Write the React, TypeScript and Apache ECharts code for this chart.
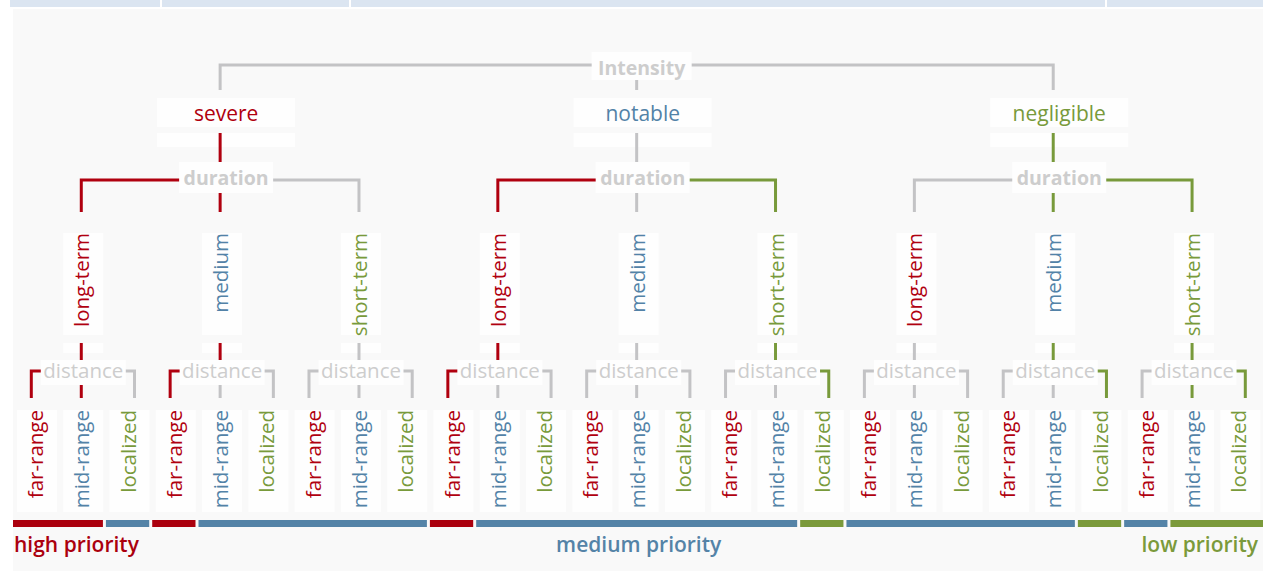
import React, { useEffect, useRef } from "react";
import * as echarts from "echarts";

// ---------- data ----------
const rootAttribute = "Intensity";
const intensityValues = ["severe", "notable", "negligible"];
const durationAttribute = "duration";
const durationValues = ["long-term", "medium", "short-term"];
const distanceAttribute = "distance";
const distanceValues = ["far-range", "mid-range", "localized"];
const leafPriorities = [
  "high", "high", "medium",
  "high", "medium", "medium",
  "medium", "medium", "medium",
  "high", "medium", "medium",
  "medium", "medium", "medium",
  "medium", "medium", "low",
  "medium", "medium", "medium",
  "medium", "medium", "low",
  "medium", "low", "low",
];
const priorityNames = ["high", "medium", "low"];
const priorityLabels = ["high priority", "medium priority", "low priority"];

// ---------- style ----------
const RED = "#b0000f";
const BLUE = "#5282a7";
const GREEN = "#789a3b";
const VALUE_COLORS = [RED, BLUE, GREEN];
const PRIORITY_COLORS: Record<string, string> = { high: "#ab000e", medium: "#5483a7", low: "#7b9a3b" };
const GREY_LINE = "#c3c3c5";
const GREY_TEXT = "#cdcdcd";
const BOX = "#fefefe";
const FONT = "'Open Sans', 'Noto Sans', sans-serif";
const LW = 3;
const PANEL_LEFT = 13;
const PANEL_RIGHT = 1263;

const N = leafPriorities.length;

function edgeColor(a: number, b: number) {
  const s = leafPriorities.slice(a, b);
  const h = s.includes("high");
  const l = s.includes("low");
  if (h && !l) return RED;
  if (l && !h) return GREEN;
  return GREY_LINE;
}

function pl(points: number[][], stroke: string) {
  return {
    type: "polyline",
    shape: { points },
    style: { stroke, lineWidth: LW, fill: "none", lineJoin: "miter" },
  };
}
function rect(x: number, y: number, w: number, h: number, fill: string) {
  return { type: "rect", shape: { x, y, width: w, height: h }, style: { fill } };
}
function htext(text: string, x: number, y: number, fill: string, size: number, weight: any, align = "center") {
  return {
    type: "text",
    x,
    y,
    style: { text, fill, fontSize: size, fontFamily: FONT, fontWeight: weight, align, verticalAlign: "middle" },
  };
}
function vtext(text: string, x: number, top: number, fill: string) {
  return {
    type: "text",
    x,
    y: top,
    rotation: Math.PI / 2,
    style: { text, fill, fontSize: 20.5, fontFamily: FONT, fontWeight: "normal", align: "right", verticalAlign: "middle" },
  };
}

// runs of equal priority
const runs: { p: string; a: number; b: number }[] = [];
leafPriorities.forEach((p, i) => {
  const last = runs[runs.length - 1];
  if (last && last.p === p) last.b = i;
  else runs.push({ p, a: i, b: i });
});

function buildOption() {
  const X = (api: any, i: number) => api.coord([i, 0])[0];
  const Y = (api: any, v: number) => api.coord([0, v])[1];

  const rootSeries = {
    type: "custom",
    silent: true,
    z: 3,
    data: [[(N - 1) / 2, 0]],
    renderItem: (_p: any, api: any) => {
      const centers = intensityValues.map((_, k) => X(api, k * 9 + 4));
      const c = X(api, api.value(0));
      const yl = Y(api, 65);
      const yd = Y(api, 90);
      const children: any[] = [
        pl([[centers[0], yd], [centers[0], yl], [centers[2], yl], [centers[2], yd]], GREY_LINE),
        pl([[centers[1], yl], [centers[1], yd]], GREY_LINE),
        rect(c + 5 - 50, Y(api, 52), 100, 28, BOX),
        htext(rootAttribute, c + 5, Y(api, 67), GREY_TEXT, 19.5, "bold"),
      ];
      return { type: "group", children };
    },
  };

  const intensitySeries = {
    type: "custom",
    silent: true,
    z: 3,
    data: intensityValues.map((_, k) => [k * 9 + 4, k]),
    renderItem: (_p: any, api: any) => {
      const k = api.value(1);
      const c = X(api, api.value(0));
      const base = k * 9;
      const d = [0, 1, 2].map((j) => X(api, base + j * 3 + 1));
      const yl = Y(api, 180);
      const yd = Y(api, 212);
      const children: any[] = [
        rect(c + 6 - 69, Y(api, 98), 138, 29, BOX),
        rect(c + 6 - 69, Y(api, 133), 138, 14, BOX),
        htext(intensityValues[k], c + 6, Y(api, 113), VALUE_COLORS[k], 21, "normal"),
        pl([[c, Y(api, 133)], [c, Y(api, 166)]], edgeColor(base, base + 9)),
        pl([[d[0], yd], [d[0], yl], [d[1], yl]], edgeColor(base, base + 3)),
        pl([[d[1], yl], [d[2], yl], [d[2], yd]], edgeColor(base + 6, base + 9)),
        pl([[d[1], yl], [d[1], yd]], edgeColor(base + 3, base + 6)),
        rect(c + 6 - 47, Y(api, 162), 94, 31, BOX),
        htext(durationAttribute, c + 6, Y(api, 177), GREY_TEXT, 19.5, "bold"),
      ];
      return { type: "group", children };
    },
  };

  const durationSeries = {
    type: "custom",
    silent: true,
    z: 3,
    data: Array.from({ length: N / 3 }, (_, g) => [g * 3 + 1, g]),
    renderItem: (_p: any, api: any) => {
      const g = api.value(1);
      const ci = api.value(0);
      const c = X(api, ci);
      const base = g * 3;
      const xl = X(api, ci - 1.08);
      const xr = X(api, ci + 1.15);
      const yl = Y(api, 371);
      const yd = Y(api, 398);
      const children: any[] = [
        rect(c + 2 - 20, Y(api, 233), 40, 102, BOX),
        rect(c + 2 - 20, Y(api, 343), 40, 10, BOX),
        vtext(durationValues[g % 3], c, Y(api, 233), VALUE_COLORS[g % 3]),
        pl([[c, Y(api, 343)], [c, Y(api, 362)]], edgeColor(base, base + 3)),
        pl([[xl, yd], [xl, yl], [c, yl]], edgeColor(base, base + 1)),
        pl([[c, yl], [xr, yl], [xr, yd]], edgeColor(base + 2, base + 3)),
        pl([[c, Y(api, 378)], [c, yd]], edgeColor(base + 1, base + 2)),
        rect(c + 2 - 42.5, Y(api, 360), 85, 25, BOX),
        htext(distanceAttribute, c + 2, Y(api, 370), GREY_TEXT, 20.5, "normal"),
      ];
      return { type: "group", children };
    },
  };

  const leafSeries = {
    type: "custom",
    silent: true,
    z: 3,
    data: leafPriorities.map((_, i) => [i, i % 3]),
    renderItem: (_p: any, api: any) => {
      const i = api.value(0);
      const k = api.value(1);
      const c = X(api, i);
      return {
        type: "group",
        children: [
          rect(c + 2 - 20, Y(api, 410), 40, 102, BOX),
          vtext(distanceValues[k], c, Y(api, 410), VALUE_COLORS[k]),
        ],
      };
    },
  };

  const barSeries = {
    type: "custom",
    silent: true,
    z: 3,
    data: runs.map((r) => [r.a, r.b, priorityNames.indexOf(r.p)]),
    renderItem: (_p: any, api: any) => {
      const a = api.value(0);
      const b = api.value(1);
      const p = priorityNames[api.value(2)];
      const x0 = a === 0 ? PANEL_LEFT : X(api, a - 0.5) + 1.5;
      const x1 = b === N - 1 ? PANEL_RIGHT : X(api, b + 0.5) - 1.5;
      return rect(x0, Y(api, 520), x1 - x0, 7, PRIORITY_COLORS[p]);
    },
  };

  const labelSeries = {
    type: "custom",
    silent: true,
    z: 3,
    data: priorityNames.map((p, k) => {
      const idx = leafPriorities.map((q, i) => (q === p ? i : -1)).filter((i) => i >= 0);
      const mean = idx.reduce((s, v) => s + v, 0) / idx.length;
      return [k === 0 ? idx[0] : k === 2 ? idx[idx.length - 1] : mean, k];
    }),
    renderItem: (_p: any, api: any) => {
      const k = api.value(1);
      const v = api.value(0);
      const y = Y(api, 544);
      const color = PRIORITY_COLORS[priorityNames[k]];
      if (k === 0) return htext(priorityLabels[k], PANEL_LEFT + 1, y, color, 21, 600, "left");
      if (k === 2) return htext(priorityLabels[k], PANEL_RIGHT - 5, y, color, 21, 600, "right");
      return htext(priorityLabels[k], X(api, v) + 2, y, color, 21, 600, "center");
    },
  };

  return {
    animation: false,
    backgroundColor: "#ffffff",
    grid: { left: 35, right: 24.64, top: 0, bottom: 0 },
    xAxis: { type: "value", min: 0, max: N - 1, show: false },
    yAxis: { type: "value", min: 0, max: 571, inverse: true, show: false },
    graphic: [
      { type: "rect", z: 0, shape: { x: PANEL_LEFT, y: 9, width: PANEL_RIGHT - PANEL_LEFT, height: 562 }, style: { fill: "#f9f9f9" } },
      { type: "rect", z: 0, shape: { x: 10, y: 0, width: 150, height: 7 }, style: { fill: "#dbe5f1" } },
      { type: "rect", z: 0, shape: { x: 162, y: 0, width: 187, height: 7 }, style: { fill: "#dbe5f1" } },
      { type: "rect", z: 0, shape: { x: 351, y: 0, width: 754, height: 7 }, style: { fill: "#dbe5f1" } },
      { type: "rect", z: 0, shape: { x: 1107, y: 0, width: 156, height: 7 }, style: { fill: "#dbe5f1" } },
    ],
    series: [rootSeries, intensitySeries, durationSeries, leafSeries, barSeries, labelSeries],
  };
}

export default function App() {
  const ref = useRef<HTMLDivElement>(null);
  useEffect(() => {
    document.body.style.margin = "0";
    const chart = echarts.init(ref.current as HTMLDivElement, undefined, { renderer: "svg" });
    chart.setOption(buildOption() as any);
    return () => chart.dispose();
  }, []);
  return <div ref={ref} style={{ position: "fixed", left: 0, top: 0, width: 1263, height: 571 }} />;
}
